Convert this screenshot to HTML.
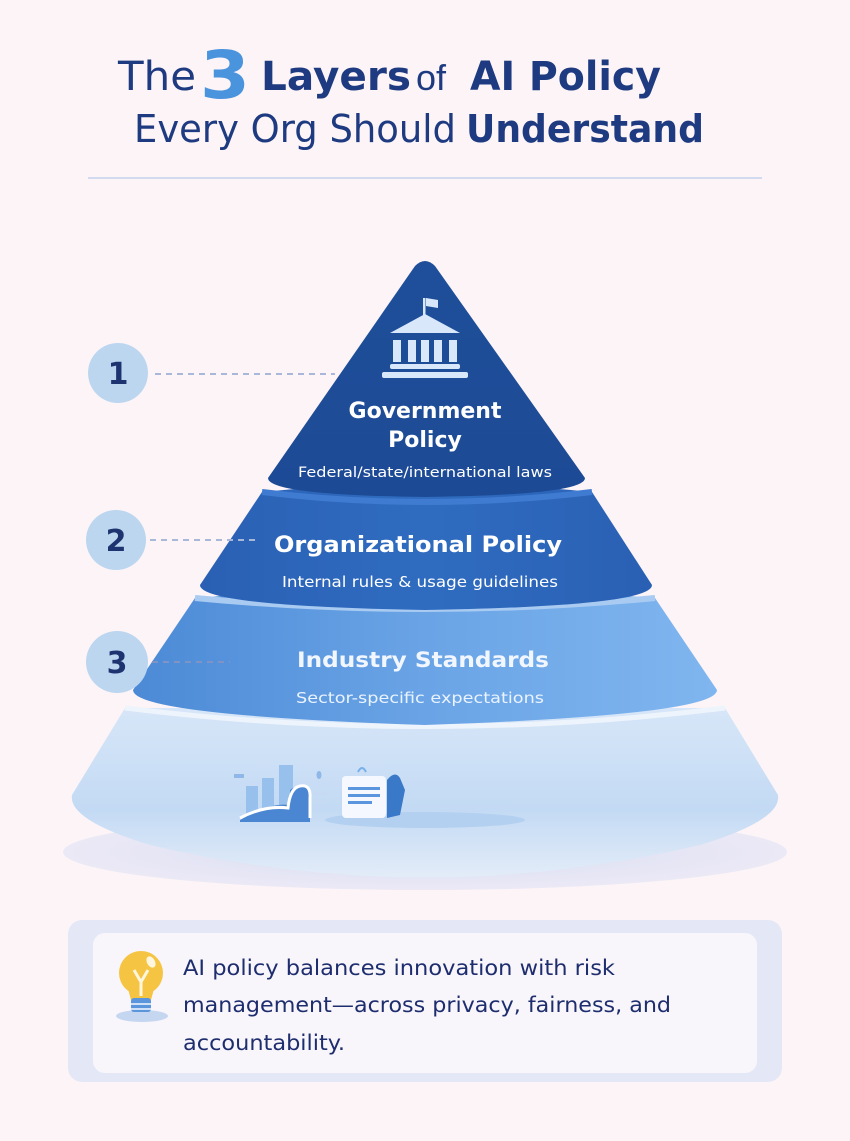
<!DOCTYPE html>
<html><head><meta charset="utf-8"><style>
html,body{margin:0;padding:0;background:#fcf4f6;}
svg{display:block}
text{font-family:"DejaVu Sans","Liberation Sans",sans-serif;}
</style></head><body>
<svg width="850" height="1141" viewBox="0 0 850 1141" xmlns="http://www.w3.org/2000/svg">
<defs>
<linearGradient id="g1" x1="0" y1="0" x2="0" y2="1"><stop offset="0" stop-color="#1f4f9a"/><stop offset="1" stop-color="#1d4a95"/></linearGradient>
<linearGradient id="g2" x1="0" y1="0" x2="1" y2="0"><stop offset="0" stop-color="#2a60b4"/><stop offset="0.5" stop-color="#2f6cc0"/><stop offset="1" stop-color="#2a60b4"/></linearGradient>
<linearGradient id="g3" x1="0" y1="0" x2="1" y2="0"><stop offset="0" stop-color="#4c8ad6"/><stop offset="0.5" stop-color="#6aa4e6"/><stop offset="1" stop-color="#80b6ef"/></linearGradient>
<linearGradient id="g4" x1="0" y1="0" x2="0" y2="1"><stop offset="0" stop-color="#d7e6f8"/><stop offset="0.6" stop-color="#c3daf4"/><stop offset="1" stop-color="#e3ecf8"/></linearGradient>
<radialGradient id="sh" cx="0.5" cy="0.5" r="0.5"><stop offset="0" stop-color="#d4dcf2"/><stop offset="1" stop-color="#ece9f6"/></radialGradient>
</defs>
<rect width="850" height="1141" fill="#fcf4f6"/>
<text x="118" y="90" font-size="40" fill="#1e3a80" textLength="78" lengthAdjust="spacingAndGlyphs">The</text>
<text x="200" y="98" font-size="66" font-weight="bold" fill="#4a93dd" textLength="50" lengthAdjust="spacingAndGlyphs">3</text>
<text x="261" y="90" font-size="40" font-weight="bold" fill="#1e3a80" textLength="150" lengthAdjust="spacingAndGlyphs">Layers</text>
<text x="416" y="90" font-size="36" fill="#1e3a80" style="font-family:'Liberation Sans',sans-serif">of</text>
<text x="470" y="90" font-size="40" font-weight="bold" fill="#1e3a80" textLength="191" lengthAdjust="spacingAndGlyphs">AI Policy</text>
<text x="134" y="142" font-size="38" fill="#1e3a80" textLength="322" lengthAdjust="spacingAndGlyphs">Every Org Should</text>
<text x="466" y="142" font-size="38" font-weight="bold" fill="#1e3a80" textLength="238" lengthAdjust="spacingAndGlyphs">Understand</text>
<line x1="88" y1="178" x2="762" y2="178" stroke="#c4d2ee" stroke-width="1.5"/>

<ellipse cx="425" cy="852" rx="362" ry="38" fill="url(#sh)"/>
<path d="M125 708 L725 708 L778 795 Q782 820 700 845 Q425 910 150 845 Q68 820 72 795 Z" fill="url(#g4)"/>
<path d="M125 708 Q425 745 725 708" fill="none" stroke="#eef4fc" stroke-width="5"/>
<path d="M195 598 Q425 580 655 598 L717 690 Q717 715 425 725 Q133 715 133 690 Z" fill="url(#g3)"/>
<path d="M195 598 Q425 620 655 598" fill="none" stroke="#a9cbf2" stroke-width="6"/>
<path d="M262 492 Q425 475 592 492 L652 585 Q652 606 425 610 Q200 606 200 585 Z" fill="url(#g2)"/>
<path d="M262 492 Q425 512 592 492" fill="none" stroke="#3f7bd0" stroke-width="6"/>
<path d="M415 266 Q425 256 435 266 L585 478 Q585 495 425 497 Q268 495 268 478 Z" fill="url(#g1)"/>

<g fill="#d8e8fa">
<rect x="423" y="298" width="2.5" height="18"/>
<path d="M426 298 L438 300 L438 308 L426 306 Z"/>
<path d="M390 333 L425 314 L460 333 Z"/>
<rect x="393" y="340" width="8" height="22"/><rect x="408" y="340" width="8" height="22"/><rect x="434" y="340" width="8" height="22"/><rect x="449" y="340" width="8" height="22"/><rect x="421" y="340" width="8" height="22"/>
<rect x="390" y="364" width="70" height="5" rx="2"/>
<rect x="382" y="372" width="86" height="6" rx="2"/>
</g>
<text x="425" y="418" font-size="22" font-weight="bold" fill="#fff" text-anchor="middle">Government</text>
<text x="425" y="447" font-size="22" font-weight="bold" fill="#fff" text-anchor="middle">Policy</text>
<text x="425" y="477" font-size="14.5" fill="#fff" text-anchor="middle" textLength="254" lengthAdjust="spacingAndGlyphs">Federal/state/international laws</text>
<text x="418" y="552" font-size="22" font-weight="bold" fill="#fff" text-anchor="middle" textLength="288" lengthAdjust="spacingAndGlyphs">Organizational Policy</text>
<text x="420" y="587" font-size="15" fill="#fff" text-anchor="middle" textLength="276" lengthAdjust="spacingAndGlyphs">Internal rules &amp; usage guidelines</text>
<text x="423" y="667" font-size="21" font-weight="bold" fill="#f2f7ff" text-anchor="middle" textLength="252" lengthAdjust="spacingAndGlyphs">Industry Standards</text>
<text x="420" y="703" font-size="15" fill="#eaf3ff" text-anchor="middle" textLength="248" lengthAdjust="spacingAndGlyphs">Sector-specific expectations</text>

<g>
<ellipse cx="425" cy="820" rx="100" ry="8" fill="#b4d0f0"/>
<rect x="234" y="774" width="10" height="4" fill="#8fb8e8"/>
<rect x="246" y="786" width="12" height="36" fill="#98c0ec"/>
<rect x="262" y="778" width="12" height="44" fill="#98c0ec"/>
<rect x="279" y="765" width="14" height="57" fill="#98c0ec"/>
<path d="M240 820 Q270 802 290 805 L290 790 Q300 782 310 790 L310 822 L240 822 Z" fill="#4a86d2"/>
<path d="M240 818 Q265 805 288 808 Q290 788 300 786 Q311 784 310 798 L310 818" fill="none" stroke="#fff" stroke-width="3"/>
<rect x="313" y="792" width="14" height="3" fill="#c6dbf3"/><rect x="313" y="800" width="14" height="3" fill="#c6dbf3"/>
<ellipse cx="319" cy="775" rx="2.5" ry="4" fill="#8fb8e8"/>
<rect x="342" y="776" width="44" height="42" rx="4" fill="#f5f9ff"/>
<rect x="348" y="787" width="32" height="3" fill="#5a95dd"/><rect x="348" y="794" width="32" height="3" fill="#5a95dd"/><rect x="348" y="801" width="24" height="3" fill="#5a95dd"/>
<path d="M387 780 Q395 770 400 778 L405 790 L400 815 L387 818 Z" fill="#3a78c8"/>
<path d="M358 772 q4 -8 8 0" fill="none" stroke="#7ab0e8" stroke-width="2"/>
</g>

<g font-size="30" font-weight="bold" fill="#1e3470" text-anchor="middle">
<circle cx="118" cy="373" r="30" fill="#bcd6f0"/><text x="118" y="384">1</text>
<circle cx="116" cy="540" r="30" fill="#bcd6f0"/><text x="116" y="551">2</text>
<circle cx="117" cy="662" r="31" fill="#bcd6f0"/><text x="117" y="673">3</text>
</g>
<g stroke-dasharray="6 5" stroke-width="2">
<line x1="155" y1="374" x2="335" y2="374" stroke="#a9b7d9"/>
<line x1="150" y1="540" x2="256" y2="540" stroke="#a9b7d9"/>
<line x1="152" y1="662" x2="230" y2="662" stroke="#7f93c4"/>
</g>

<rect x="68" y="920" width="714" height="162" rx="14" fill="#e4e8f6"/>
<rect x="93" y="933" width="664" height="140" rx="12" fill="#f8f6fb"/>
<ellipse cx="142" cy="1016" rx="26" ry="6" fill="#c5d6f0"/>
<circle cx="141" cy="973" r="22" fill="#f6c443"/>
<path d="M127 985 L131 1000 L151 1000 L155 985 Z" fill="#f6c443"/>
<rect x="131" y="998" width="20" height="14" rx="3" fill="#5b96dc"/>
<rect x="131" y="1003" width="20" height="2" fill="#cfe1f6"/><rect x="131" y="1008" width="20" height="2" fill="#cfe1f6"/>
<path d="M141 996 L141 982 M134 970 L141 982 L148 970" fill="none" stroke="#fff6dc" stroke-width="3"/>
<ellipse cx="151" cy="962" rx="4" ry="6" fill="#fff7dd" transform="rotate(-30 151 962)"/>
<g font-size="21" fill="#1e2d6e">
<text x="183" y="975" textLength="432" lengthAdjust="spacingAndGlyphs">AI policy balances innovation with risk</text>
<text x="183" y="1012" textLength="488" lengthAdjust="spacingAndGlyphs">management—across privacy, fairness, and</text>
<text x="183" y="1050" textLength="162" lengthAdjust="spacingAndGlyphs">accountability.</text>
</g>
</svg>
</body></html>
